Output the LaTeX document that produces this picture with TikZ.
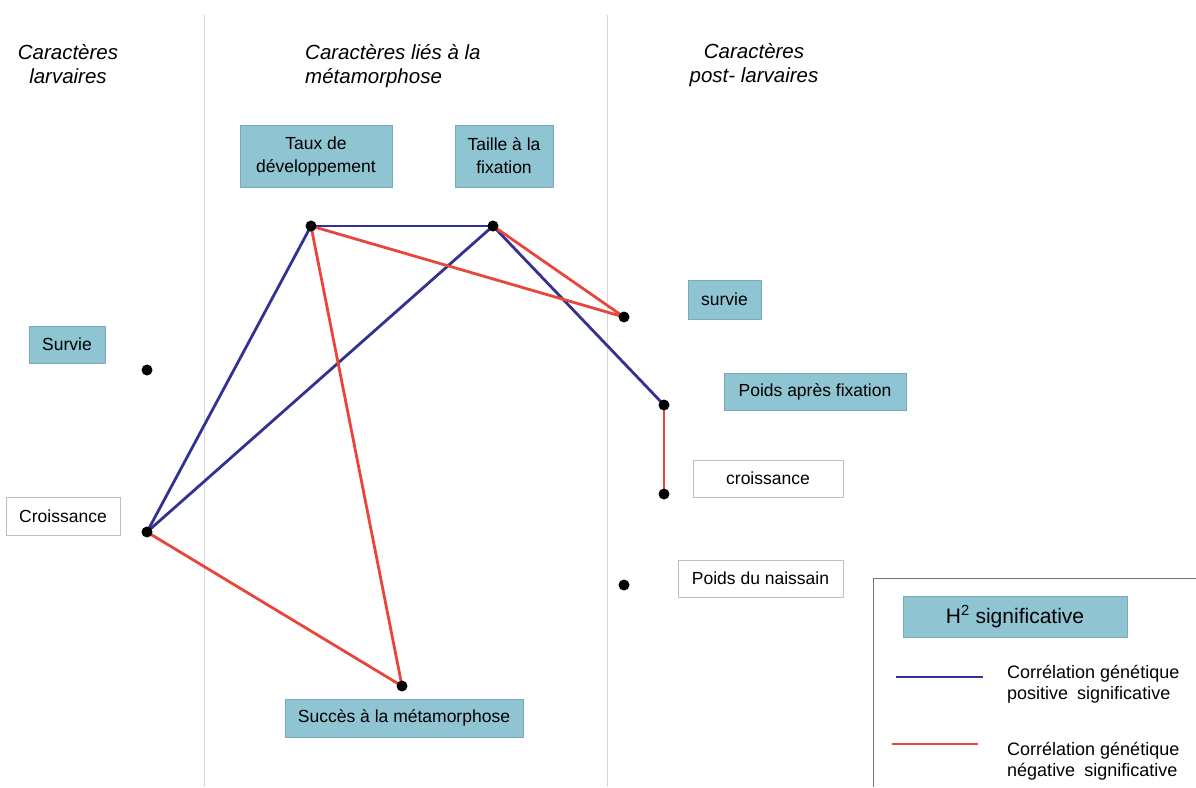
\documentclass[tikz,border=0pt]{standalone}
\usepackage{fontspec}
\setmainfont{Liberation Sans}
\definecolor{boxblue}{RGB}{143,196,210}
\definecolor{boxedge}{RGB}{120,170,185}
\definecolor{posblue}{RGB}{50,50,145}
\definecolor{negred}{RGB}{232,70,58}
\definecolor{divider}{RGB}{215,215,215}
\begin{document}
\begin{tikzpicture}[x=1pt,y=-1pt,
  heading/.style={inner sep=0pt,font=\fontsize{20.5}{24}\selectfont\itshape,text=black},
  bluebox/.style={fill=boxblue,draw=boxedge,line width=0.6pt,inner sep=0pt,align=center,
     font=\fontsize{17.5}{23}\selectfont,text=black},
  whitebox/.style={fill=white,draw=black!25,line width=0.8pt,inner sep=0pt,align=center,
     font=\fontsize{17.5}{23}\selectfont,text=black},
  dot/.style={circle,fill=black,inner sep=0pt,minimum size=11pt},
  poscorr/.style={draw=posblue,line width=2.8pt},
  negcorr/.style={draw=negred,line width=2.8pt},
  legtext/.style={inner sep=0pt,align=left,anchor=west,font=\fontsize{18}{21}\selectfont,text=black}]
\useasboundingbox (0,0) rectangle (1196,787);
\fill[white] (0,0) rectangle (1196,787);

% column dividers
\coordinate (divAtop) at (204,15);
\coordinate (divAbot) at (204,787);
\coordinate (divBtop) at (607,15);
\coordinate (divBbot) at (607,787);
\draw[divider,line width=1pt] (divAtop) -- (divAbot);
\draw[divider,line width=1pt] (divBtop) -- (divBbot);

% headings
\node[heading,align=center] (hLarv) at (68,64.5) {Caractères\\larvaires};
\node[heading,align=left,anchor=west] (hMeta) at (305,66.5) {Caractères liés à la\\métamorphose};
\node[heading,align=center] (hPost) at (754,65.5) {Caractères\\post- larvaires};

% boxes
\node[bluebox,minimum width=152pt,minimum height=62pt] (taux) at (316,156) {Taux de\\développement};
\node[bluebox,minimum width=98pt,minimum height=62pt] (taille) at (504,156) {Taille à la\\fixation};
\node[bluebox,minimum width=76pt,minimum height=37pt] (survieL) at (67,344.5) {Survie};
\node[whitebox,minimum width=114pt,minimum height=38pt] (croisL) at (63,516) {Croissance};
\node[bluebox,minimum width=238pt,minimum height=38pt] (succes) at (404,718) {Succès à la métamorphose};
\node[bluebox,minimum width=73pt,minimum height=39pt] (survieP) at (724.5,299.5) {survie};
\node[bluebox,minimum width=182pt,minimum height=37pt] (poidsA) at (815,391.5) {Poids après fixation};
\node[whitebox,minimum width=150pt,minimum height=37pt] (croisP) at (768,478.5) {croissance};
\node[whitebox,minimum width=165pt,minimum height=37pt] (naissain) at (760.5,578.5) {Poids du naissain};

% dot positions
\coordinate (pTaux) at (311,226);
\coordinate (pTaille) at (493,226);
\coordinate (pSurvieP) at (624,317);
\coordinate (pPoidsA) at (664,405);
\coordinate (pCroisP) at (664,494);
\coordinate (pSurvieL) at (147,370);
\coordinate (pCroisL) at (147,532);
\coordinate (pSucces) at (402,686);
\coordinate (pNaissain) at (624,585);

% correlations
\draw[poscorr] (pTaux) -- (pTaille);
\draw[poscorr] (pTaux) -- (pCroisL);
\draw[poscorr] (pTaille) -- (pCroisL);
\draw[poscorr] (pTaille) -- (pPoidsA);
\draw[negcorr] (pTaux) -- (pSurvieP);
\draw[negcorr] (pTaille) -- (pSurvieP);
\draw[negcorr] (pTaux) -- (pSucces);
\draw[negcorr] (pCroisL) -- (pSucces);
\draw[negcorr,line width=2.3pt] (pPoidsA) -- (pCroisP);

% dots
\node[dot] (dTaux) at (pTaux) {};
\node[dot] (dTaille) at (pTaille) {};
\node[dot] (dSurvieP) at (pSurvieP) {};
\node[dot] (dPoidsA) at (pPoidsA) {};
\node[dot] (dCroisP) at (pCroisP) {};
\node[dot] (dSurvieL) at (pSurvieL) {};
\node[dot] (dCroisL) at (pCroisL) {};
\node[dot] (dSucces) at (pSucces) {};
\node[dot] (dNaissain) at (pNaissain) {};

% legend
\coordinate (legTR) at (1196,578);
\coordinate (legTL) at (873,578);
\coordinate (legBL) at (873,787);
\draw[black!55,line width=1pt] (legTR) -- (legTL) -- (legBL);
\node[bluebox,minimum width=224pt,minimum height=41pt,font=\fontsize{21}{24}\selectfont] (h2) at (1015,616.5) {H\textsuperscript{2} significative};
\coordinate (lpA) at (896,677);
\coordinate (lpB) at (983,677);
\coordinate (lnA) at (892,744);
\coordinate (lnB) at (978,744);
\draw[poscorr] (lpA) -- (lpB);
\draw[negcorr] (lnA) -- (lnB);
\node[legtext] (legPos) at (1007,684) {Corrélation génétique\\positive\enspace significative};
\node[legtext] (legNeg) at (1007,761) {Corrélation génétique\\négative\enspace significative};
\end{tikzpicture}
\end{document}
